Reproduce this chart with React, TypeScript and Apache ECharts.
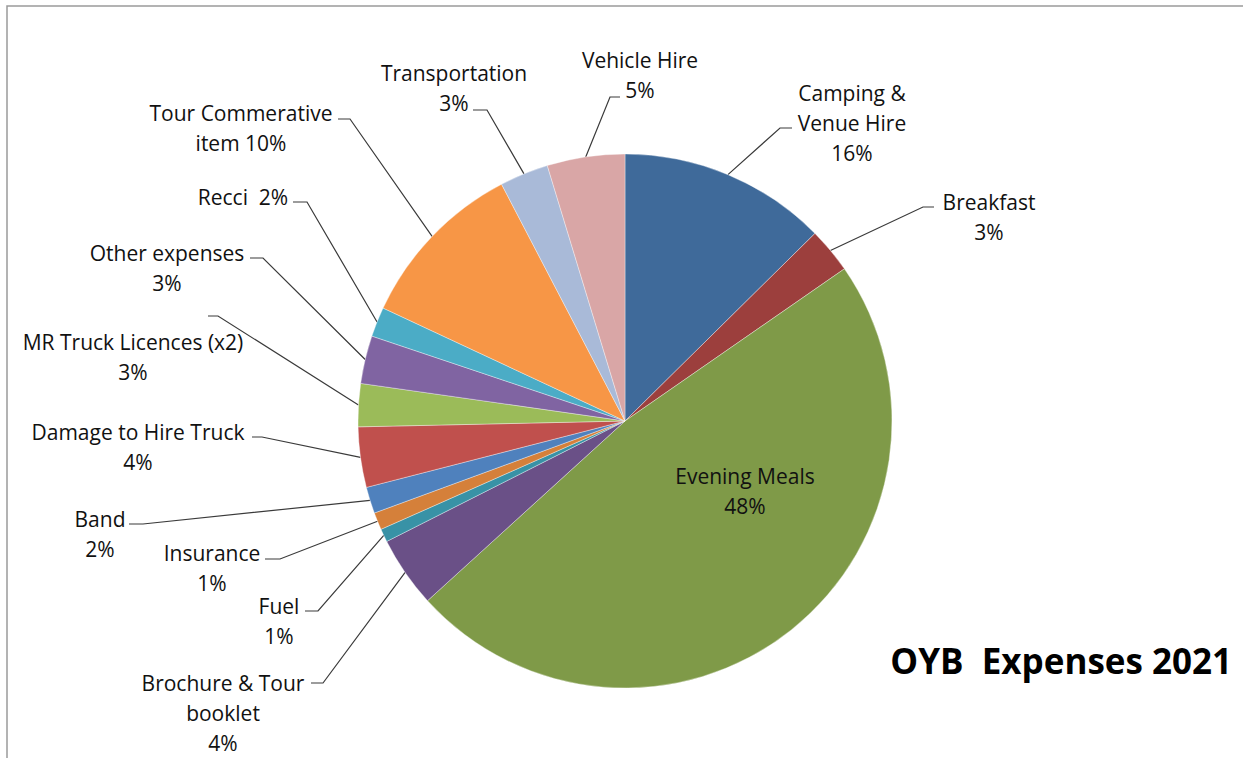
import React, { useEffect, useRef } from "react";
import * as echarts from "echarts";

// ---- data ----
const categories = [
  "Camping & Venue Hire",
  "Breakfast",
  "Evening Meals",
  "Brochure & Tour booklet",
  "Fuel",
  "Insurance",
  "Band",
  "Damage to Hire Truck",
  "MR Truck Licences (x2)",
  "Other expenses",
  "Recci",
  "Tour Commerative item",
  "Transportation",
  "Vehicle Hire",
];
// share of the pie (percent), measured from slice angles
const shares = [12.6, 2.75, 47.9, 4.3, 0.8, 1.05, 1.6, 3.65, 2.6, 2.9, 1.8, 10.4, 2.95, 4.7];
// percentages as printed on the chart labels
const percentLabels = ["16%", "3%", "48%", "4%", "1%", "1%", "2%", "4%", "3%", "3%", "2%", "10%", "3%", "5%"];
// how each category name is wrapped on the chart
const wrappedNames = [
  "Camping &\nVenue Hire",
  "Breakfast",
  "Evening Meals",
  "Brochure & Tour\nbooklet",
  "Fuel",
  "Insurance",
  "Band",
  "Damage to Hire Truck",
  "MR Truck Licences (x2)",
  "Other expenses",
  "Recci",
  "Tour Commerative\nitem",
  "Transportation",
  "Vehicle Hire",
];
const titleText = "OYB  Expenses 2021";

// ---- styling / layout ----
const colors = [
  "#3F6A9A", "#9C3F3D", "#7F9A48", "#6A5087", "#3892A6", "#D5803A", "#4F81BD",
  "#C0504D", "#9BBB59", "#8064A2", "#4BACC6", "#F79646", "#A9BAD8", "#D9A6A6",
];
type Spot = { x: number; y: number; sep: string; bend?: number[]; end?: number[] };
const labelSpots: Spot[] = [
  { x: 852, y: 78, sep: "\n", bend: [780, 128], end: [792, 128] },
  { x: 989, y: 187, sep: "\n", bend: [923, 207], end: [934, 207] },
  { x: 745, y: 461, sep: "\n" },
  { x: 223, y: 668, sep: "\n", bend: [323, 683], end: [311, 683] },
  { x: 279, y: 591, sep: "\n", bend: [318, 611], end: [305, 611] },
  { x: 212, y: 538, sep: "\n", bend: [280, 559], end: [265, 559] },
  { x: 100, y: 504, sep: "\n", bend: [143, 524], end: [129, 524] },
  { x: 138, y: 417, sep: "\n", bend: [262, 437], end: [252, 437] },
  { x: 133, y: 327, sep: "\n", bend: [218, 316], end: [208, 316] },
  { x: 167, y: 238, sep: "\n", bend: [263, 258], end: [250, 258] },
  { x: 243, y: 182, sep: "  ", bend: [307, 202], end: [293, 202] },
  { x: 241, y: 98, sep: " ", bend: [350, 119], end: [338, 119] },
  { x: 454, y: 58, sep: "\n", bend: [487, 110], end: [473, 110] },
  { x: 640, y: 45, sep: "\n", bend: [610, 97], end: [620, 97] },
];

const FONT = "'Open Sans', 'Noto Sans', sans-serif";

export default function App() {
  const ref = useRef<HTMLDivElement>(null);

  useEffect(() => {
    if (!ref.current) return;
    const chart = echarts.init(ref.current, undefined, { renderer: "svg" });

    const data = categories.map((name, i) => {
      const item: any = {
        name,
        value: shares[i],
        itemStyle: { color: colors[i] },
      };
      if (!labelSpots[i].bend) {
        item.label = { position: "inside" };
        item.labelLine = { show: false };
      }
      return item;
    });

    chart.setOption({
      animation: false,
      backgroundColor: "#ffffff",
      title: {
        text: titleText,
        right: 11,
        top: 643,
        padding: 0,
        textStyle: {
          fontFamily: FONT,
          fontWeight: "bold",
          fontSize: 35,
          color: "#000000",
        },
      },
      graphic: [
        {
          type: "rect",
          shape: { x: 7, y: 6, width: 1260, height: 780 },
          style: { fill: "none", stroke: "#9a9a9a", lineWidth: 1.5 },
          silent: true,
        },
      ],
      series: [
        {
          type: "pie",
          center: [625, 421],
          radius: 267,
          startAngle: 90,
          clockwise: true,
          avoidLabelOverlap: false,
          itemStyle: { borderColor: "rgba(255,255,255,0.6)", borderWidth: 0.6 },
          label: {
            show: true,
            position: "outside",
            fontFamily: FONT,
            fontSize: 21,
            lineHeight: 30,
            color: "#111111",
            width: 300,
            overflow: "none",
            formatter: (p: any) =>
              wrappedNames[p.dataIndex] + labelSpots[p.dataIndex].sep + percentLabels[p.dataIndex],
          },
          labelLine: {
            show: true,
            lineStyle: { color: "#3a3a3a", width: 1.2 },
          },
          labelLayout: (p: any) => {
            const s = labelSpots[p.dataIndex];
            const out: any = { x: s.x, y: s.y, align: "center", verticalAlign: "top" };
            if (s.bend && p.labelLinePoints && p.labelLinePoints[0]) {
              out.labelLinePoints = [p.labelLinePoints[0], s.bend, s.end];
            }
            return out;
          },
          data,
        },
      ],
    });

    return () => chart.dispose();
  }, []);

  return (
    <div
      ref={ref}
      style={{ position: "fixed", left: 0, top: 0, width: 1243, height: 758, background: "#fff" }}
    />
  );
}
